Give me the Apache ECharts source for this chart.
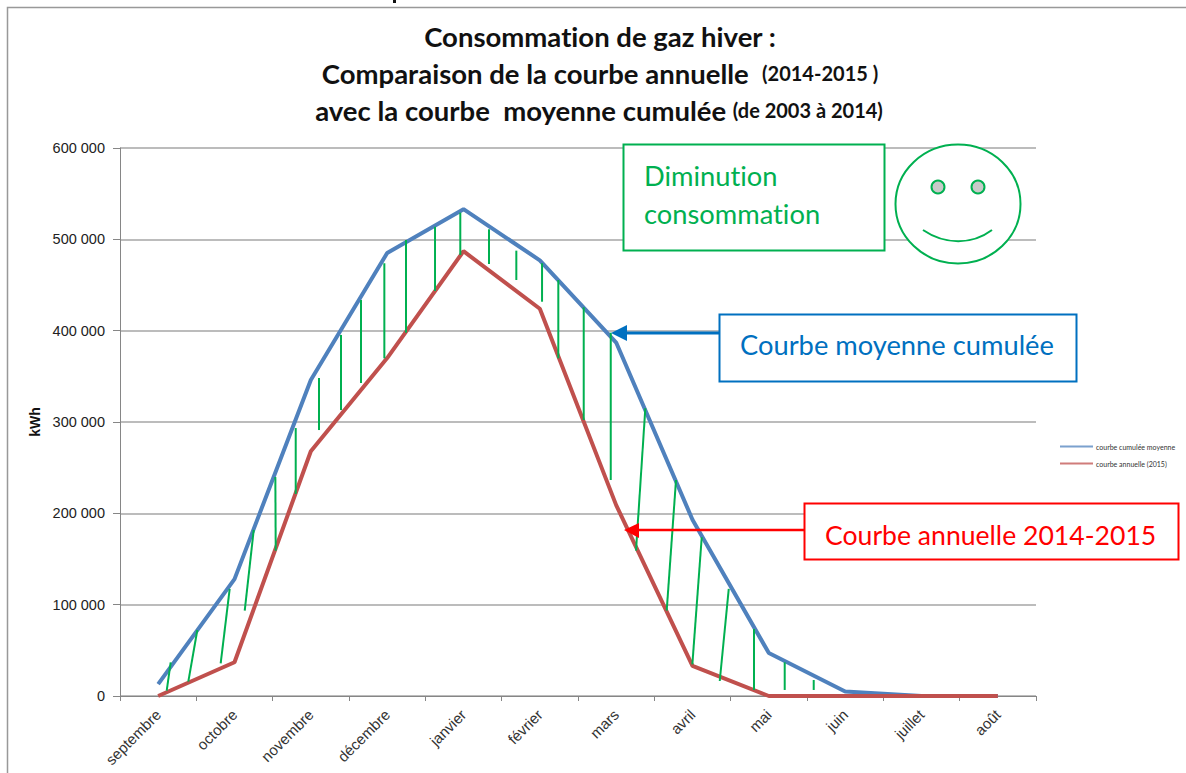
<!DOCTYPE html>
<html>
<head>
<meta charset="utf-8">
<script src="https://cdn.jsdelivr.net/npm/echarts@6/dist/echarts.min.js"></script>
<style>
  html, body { margin: 0; padding: 0; background: #fff; }
  #chart { width: 1186px; height: 773px; }
  #chart text { font-variant-ligatures: none !important; }
</style>
</head>
<body>
<div id="chart"></div>
<script>
const months = ["septembre", "octobre", "novembre", "décembre", "janvier", "février", "mars", "avril", "mai", "juin", "juillet", "août"];
const courbeMoyenne = [13000, 128000, 346000, 485000, 533000, 477000, 387000, 193000, 47000, 5000, 0, 0];
const courbeAnnuelle = [0, 37000, 268000, 370000, 487000, 424000, 209000, 33000, 0, 0, 0, 0];

// green hatching between the curves, x in month units (0 = left edge of the axis)
const hatchTopX = [0.664, 1.013, 1.437, 1.752, 2.035, 2.302, 2.607, 2.895, 3.157, 3.463, 3.747, 4.127, 4.458, 4.834, 5.192, 5.529, 5.742, 6.075, 6.429, 6.882, 7.284, 7.621, 7.975, 8.306, 8.708, 9.088];
const hatchTopY = [36900, 72300, 117200, 181800, 239800, 293400, 348200, 395300, 433600, 473800, 499300, 513800, 529200, 511000, 487600, 473800, 455500, 425600, 397800, 315000, 236500, 173800, 117200, 73400, 36900, 17500];
const hatchBottomX = [0.612, 0.895, 1.319, 1.634, 2.040, 2.302, 2.607, 2.895, 3.157, 3.463, 3.747, 4.127, 4.458, 4.834, 5.192, 5.529, 5.742, 6.075, 6.429, 6.760, 7.162, 7.498, 7.857, 8.306, 8.708, 9.088];
const hatchBottomY = [5800, 15700, 35800, 93400, 159100, 221200, 291200, 313100, 342700, 369700, 397800, 443400, 482900, 473000, 455500, 431700, 369700, 302200, 236500, 159100, 93400, 34700, 16400, 6600, 6600, 6600];
const hatchRows = hatchTopX.map((x, i) => [x, hatchTopY[i], hatchBottomX[i], hatchBottomY[i]]);

const FONT = "Lato";
const AXIS_FONT = "Liberation Sans";
const GREEN = "#00b050";
const chart = echarts.init(document.getElementById("chart"), null, { renderer: "svg" });

const titleRich = {
  a: { fontFamily: FONT, fontSize: 27.5, fontWeight: "bold", color: "#111" },
  b: { fontFamily: FONT, fontSize: 20, fontWeight: "bold", color: "#111" }
};

chart.setOption({
  backgroundColor: "#ffffff",
  animation: false,
  textStyle: { fontFamily: FONT },
  title: [
    { text: "Consommation de gaz hiver :", left: 595, top: 17, textAlign: "center",
      textStyle: { fontFamily: FONT, fontSize: 27.5, fontWeight: "bold", color: "#111" } },
    { text: "{a|Comparaison de la courbe annuelle  }{b|(2014-2015 )}", left: 595, top: 54, textAlign: "center",
      textStyle: { rich: titleRich } },
    { text: "{a|avec la courbe  moyenne cumulée }{b|(de 2003 à 2014)}", left: 594, top: 91, textAlign: "center",
      textStyle: { rich: titleRich } }
  ],
  legend: {
    orient: "vertical",
    left: 1055,
    top: 438,
    itemGap: 10,
    itemWidth: 33,
    itemHeight: 2,
    icon: "rect",
    data: [
      { name: "courbe cumulée moyenne", itemStyle: { opacity: 0.75 } },
      { name: "courbe annuelle (2015)", itemStyle: { opacity: 0.75 } }
    ],
    textStyle: { fontFamily: FONT, fontSize: 7, color: "#333", padding: [0, 0, 0, -2] }
  },
  grid: { left: 120, top: 148, width: 916, height: 548, containLabel: false },
  xAxis: [
    {
      type: "category",
      data: months,
      boundaryGap: true,
      axisLine: { lineStyle: { color: "#868686", width: 1 } },
      axisTick: { show: true, length: 5, lineStyle: { color: "#868686" } },
      axisLabel: { interval: 0, rotate: 45, color: "#333", fontFamily: AXIS_FONT, fontSize: 15, margin: 16 }
    },
    { type: "value", min: 0, max: 12, show: false }
  ],
  yAxis: {
    type: "value",
    min: 0,
    max: 600000,
    interval: 100000,
    name: "kWh",
    nameLocation: "middle",
    nameGap: 75,
    nameTextStyle: { color: "#111", fontFamily: AXIS_FONT, fontSize: 14, fontWeight: "bold" },
    axisLine: { show: true, lineStyle: { color: "#868686" } },
    axisTick: { show: true, length: 7, lineStyle: { color: "#868686" } },
    axisLabel: {
      color: "#222", fontFamily: AXIS_FONT, fontSize: 14.5, margin: 15,
      formatter: (v) => String(v).replace(/\B(?=(\d{3})+$)/g, " ")
    },
    splitLine: { lineStyle: { color: "#a6a6a6", width: 1.5 } }
  },
  series: [
    {
      type: "custom",
      name: "hachures",
      xAxisIndex: 1,
      yAxisIndex: 0,
      data: hatchRows,
      silent: true,
      z: 6,
      encode: { x: [0, 2], y: [1, 3] },
      renderItem: (params, api) => {
        const top = api.coord([api.value(0), api.value(1)]);
        const bottom = api.coord([api.value(2), api.value(3)]);
        return {
          type: "line",
          shape: { x1: top[0], y1: top[1], x2: bottom[0], y2: bottom[1] },
          style: { stroke: GREEN, lineWidth: 2 }
        };
      }
    },
    {
      type: "line",
      name: "courbe cumulée moyenne",
      data: courbeMoyenne,
      symbol: "none",
      z: 4,
      itemStyle: { color: "#4f81bd" },
      lineStyle: { color: "#4f81bd", width: 4 }
    },
    {
      type: "line",
      name: "courbe annuelle (2015)",
      data: courbeAnnuelle,
      symbol: "none",
      z: 5,
      itemStyle: { color: "#c0504d" },
      lineStyle: { color: "#c0504d", width: 4 }
    }
  ],
  graphic: [
    // page frame, cut by the top and left of the screenshot
    { type: "polyline", z: 1, shape: { points: [[7.5, 773], [7.5, 7.5], [1186, 7.5]] },
      style: { stroke: "#999", lineWidth: 1.5, fill: "none" } },
    { type: "rect", z: 1, shape: { x: 393, y: 0, width: 3, height: 3 }, style: { fill: "#111" } },
    // callout boxes
    { type: "rect", z: 20, shape: { x: 623.5, y: 144.5, width: 261, height: 106 },
      style: { fill: "#fff", stroke: GREEN, lineWidth: 2 } },
    { type: "text", z: 21, left: 644, top: 156,
      style: { text: "Diminution\nconsommation", fill: GREEN, font: "27.3px Lato", lineHeight: 38 } },
    { type: "rect", z: 20, shape: { x: 719.5, y: 314.5, width: 357, height: 67 },
      style: { fill: "#fff", stroke: "#0070c0", lineWidth: 2 } },
    { type: "text", z: 21, left: 740, top: 331,
      style: { text: "Courbe moyenne cumulée", fill: "#0070c0", font: "27.3px Lato" } },
    { type: "rect", z: 20, shape: { x: 804.5, y: 503.5, width: 374, height: 56 },
      style: { fill: "#fff", stroke: "#ff0000", lineWidth: 2 } },
    { type: "text", z: 21, left: 825, top: 521,
      style: { text: "Courbe annuelle 2014-2015", fill: "#ff0000", font: "26.6px Lato" } },
    // arrows
    { type: "line", z: 20, shape: { x1: 719, y1: 333, x2: 625, y2: 333 }, style: { stroke: "#0070c0", lineWidth: 3 } },
    { type: "polygon", z: 20, shape: { points: [[611, 333], [627, 325], [627, 341]] }, style: { fill: "#0070c0" } },
    { type: "line", z: 20, shape: { x1: 804, y1: 530, x2: 636, y2: 530 }, style: { stroke: "#ff0000", lineWidth: 2.5 } },
    { type: "polygon", z: 20, shape: { points: [[624, 530], [639, 523], [639, 538]] }, style: { fill: "#ff0000" } },
    // smiley
    { type: "ellipse", z: 20, shape: { cx: 958, cy: 204, rx: 62.5, ry: 59.5 }, style: { fill: "#fff", stroke: GREEN, lineWidth: 2 } },
    { type: "circle", z: 21, shape: { cx: 938, cy: 187, r: 6.5 }, style: { fill: "#c9c9c9", stroke: GREEN, lineWidth: 2 } },
    { type: "circle", z: 21, shape: { cx: 978, cy: 187, r: 6.5 }, style: { fill: "#c9c9c9", stroke: GREEN, lineWidth: 2 } },
    { type: "bezierCurve", z: 21, shape: { x1: 923, y1: 230, cpx1: 945, cpy1: 245, cpx2: 972, cpy2: 245, x2: 992, y2: 230 },
      style: { stroke: GREEN, lineWidth: 2, fill: "none" } }
  ]
});
</script>
</body>
</html>
